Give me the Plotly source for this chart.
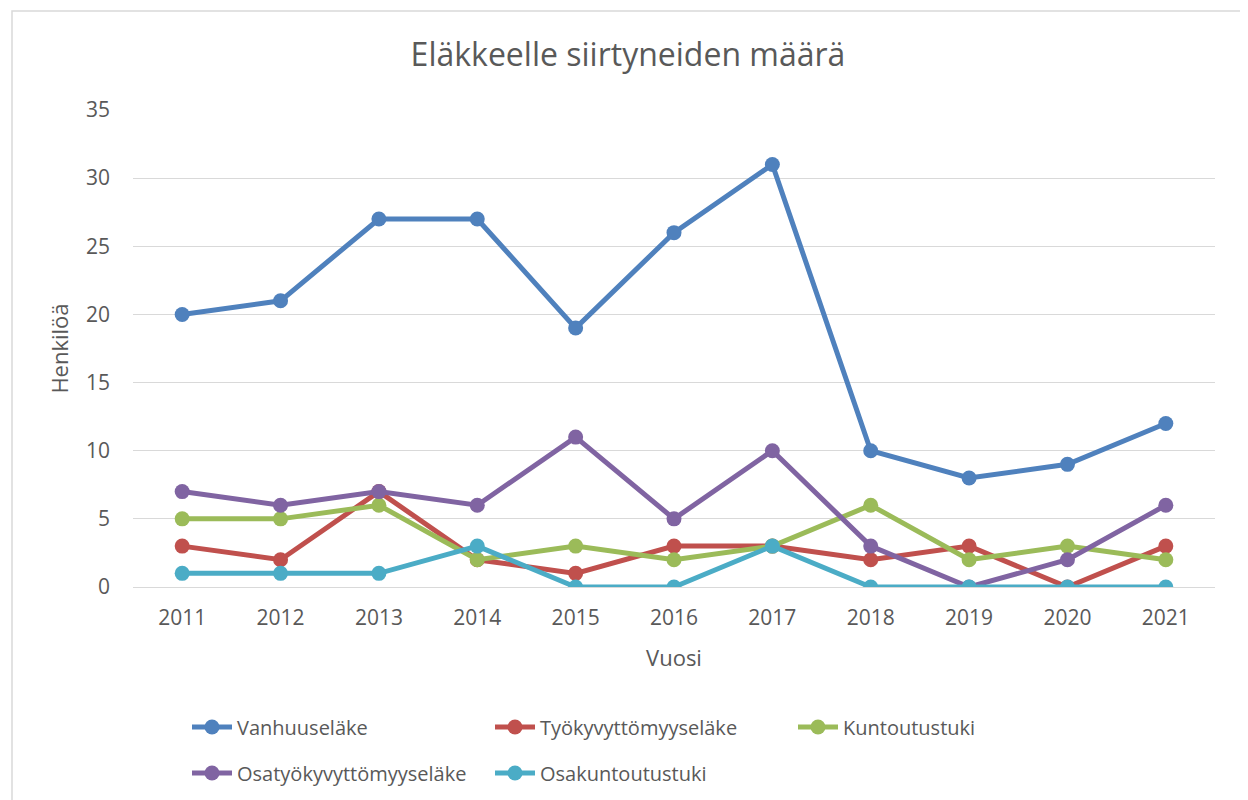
import plotly.graph_objects as go

years = ["2011", "2012", "2013", "2014", "2015", "2016", "2017", "2018", "2019", "2020", "2021"]
vanhuuselake = [20, 21, 27, 27, 19, 26, 31, 10, 8, 9, 12]
tyokyvyttomyyselake = [3, 2, 7, 2, 1, 3, 3, 2, 3, 0, 3]
kuntoutustuki = [5, 5, 6, 2, 3, 2, 3, 6, 2, 3, 2]
osatyokyvyttomyyselake = [7, 6, 7, 6, 11, 5, 10, 3, 0, 2, 6]
osakuntoutustuki = [1, 1, 1, 3, 0, 0, 3, 0, 0, 0, 0]

series = [
    ("Vanhuuseläke", vanhuuselake, "#4F81BD", "legend"),
    ("Työkyvyttömyyseläke", tyokyvyttomyyselake, "#C0504D", "legend"),
    ("Kuntoutustuki", kuntoutustuki, "#9BBB59", "legend"),
    ("Osatyökyvyttömyyseläke", osatyokyvyttomyyselake, "#8064A2", "legend2"),
    ("Osakuntoutustuki", osakuntoutustuki, "#4BACC6", "legend2"),
]

FONT = "Open Sans"
TXT = "#595959"

fig = go.Figure()
for name, vals, col, leg in series:
    fig.add_trace(go.Scatter(
        x=years, y=vals, name=name, mode="lines+markers",
        line=dict(color=col, width=5),
        marker=dict(color=col, size=15),
        legend=leg,
    ))

# page offset of 8px (browser body margin)
OFF = 8
W, H = 1248 - OFF, 800 - OFF
L, R, T, B = 133 - OFF, 33, 110 - OFF, 213
pw, ph = W - L - R, H - T - B

def px2x(p):
    return (p - OFF - L) / pw

def px2y(p):
    return (H - B - (p - OFF)) / ph

legend_common = dict(
    orientation="h", xanchor="left", yanchor="middle",
    xref="paper", yref="paper",
    entrywidth=248, entrywidthmode="pixels",
    font=dict(size=20, color=TXT, family=FONT),
    itemwidth=40, traceorder="normal", bgcolor="rgba(0,0,0,0)",
)

fig.update_layout(
    width=W, height=H,
    margin=dict(l=L, r=R, t=T, b=B, autoexpand=False),
    paper_bgcolor="white", plot_bgcolor="white",
    font=dict(family=FONT, color=TXT, size=16),
    title=dict(text="Eläkkeelle siirtyneiden määrä", x=px2x(628), xref="paper", xanchor="center",
               y=1 - (55 - OFF) / H, yanchor="middle",
               font=dict(size=32, color=TXT, family=FONT)),
    xaxis=dict(type="category", range=[-0.5, 10.5], showgrid=False,
               showline=True, linecolor="#D9D9D9", linewidth=1,
               ticks="", tickfont=dict(size=21, color=TXT),
               ticklabelstandoff=12,
               title=dict(text="Vuosi", font=dict(size=22, color=TXT), standoff=20)),
    yaxis=dict(range=[0, 35], dtick=5, showgrid=True, gridcolor="#D9D9D9", gridwidth=1,
               zeroline=False, showline=False, ticks="",
               tickfont=dict(size=21, color=TXT), ticklabelstandoff=22,
               title=dict(text="Henkilöä", font=dict(size=22, color=TXT), standoff=11)),
    legend=dict(x=px2x(187), y=px2y(727), **legend_common),
    legend2=dict(x=px2x(187), y=px2y(773), **legend_common),
    shapes=[dict(type="rect", xref="paper", yref="paper",
                 x0=px2x(12), x1=px2x(1244), y0=px2y(810), y1=px2y(11),
                 line=dict(color="#D9D9D9", width=1.5), fillcolor="rgba(0,0,0,0)",
                 layer="below")],
)

fig.write_html("out.html")
